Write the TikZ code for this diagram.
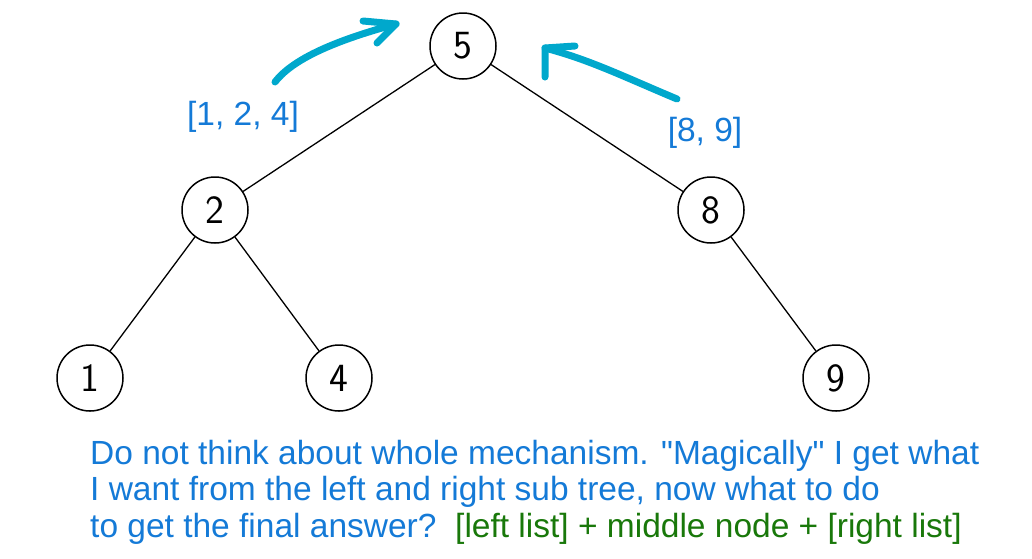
\documentclass[tikz,border=0pt]{standalone}
\usepackage{fontspec}
\setmainfont{Liberation Sans}
\usepackage{tikz}
\usetikzlibrary{arrows.meta,calc}
\definecolor{noteblue}{RGB}{20,122,215}
\definecolor{notegreen}{RGB}{25,120,10}
\definecolor{inkcyan}{RGB}{0,168,204}

\begin{document}
\begin{tikzpicture}[x=1pt, y=-1pt, >=Stealth,
    treenode/.style={circle, draw=black, line width=1.5pt, minimum size=66pt,
      inner sep=0pt, font=\fontsize{40}{42}\selectfont\sffamily},
    treeedge/.style={black, line width=1.3pt},
    ink/.style={inkcyan, line width=7pt, line cap=round, line join=round},
    note/.style={noteblue, font=\fontsize{33.5}{36.5}\selectfont}]
  \useasboundingbox (0,0) rectangle (1032,558);

  % Tree
  \node[treenode] (n5) at (463,46) {5};
  \node[treenode] (n2) at (215,210) {2};
  \node[treenode] (n8) at (711,210) {8};
  \node[treenode] (n1) at (90,378) {1};
  \node[treenode] (n4) at (339,378) {4};
  \node[treenode] (n9) at (836,378) {9};
  \foreach \a/\b in {n5/n2, n5/n8, n2/n1, n2/n4, n8/n9}
    \draw[treeedge] (\a) -- (\b);

  % Results from the sub trees
  \node[note, anchor=base] (leftres) at (243,125) {[1, 2, 4]};
  \node[note, anchor=base] (rightres) at (705,141) {[8, 9]};

  % Hand drawn arrows
  \coordinate (ltail) at (275,82);
  \coordinate (ltip) at (396,24);
  \draw[ink] (ltail) .. controls (295,56) and (345,38) .. (ltip);
  \draw[ink] ($(ltip)+(-33,-3)$) -- (ltip) -- ($(ltip)+(-19,19)$);
  \coordinate (rtail) at (677,99);
  \coordinate (rtip) at (545,48);
  \draw[ink] (rtail) .. controls (620,75) and (590,60) .. (rtip);
  \draw[ink] ($(rtip)+(30,-2)$) -- (rtip) -- ($(rtip)+(0,29)$);

  % Explanation
  \node[note, anchor=base west, align=left, inner sep=0pt] (explain) at (90,537)
    {Do not think about whole mechanism. \textquotedbl Magically\textquotedbl\ I get what\\
     I want from the left and right sub tree, now what to do\\
     to get the final answer?\ \ \textcolor{notegreen}{[left list] + middle node + [right list]}};
\end{tikzpicture}
\end{document}
